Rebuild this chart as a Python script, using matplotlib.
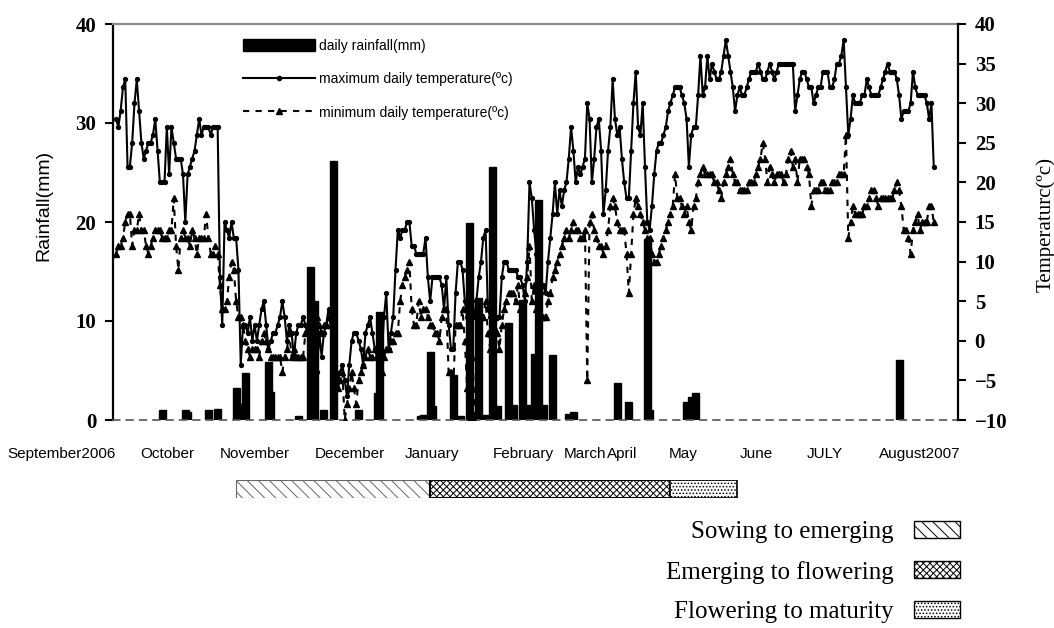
import matplotlib
matplotlib.use("Agg")
import matplotlib.pyplot as plt
from matplotlib import font_manager as fm
from matplotlib.patches import Patch
from matplotlib.lines import Line2D
import numpy as np

# ---------------- data ----------------
tmax = [28, 27, 29, 32, 33, 22, 22, 25, 30, 33,
        29, 25, 23, 24, 25, 25, 26, 28, 24, 20,
        20, 20, 27, 21, 27, 25, 23, 23, 23, 21,
        15, 21, 22, 23, 24, 26, 28, 26, 27, 27,
        27, 26, 27, 27, 27, 8, 2, 15, 14, 13,
        15, 13, 13, 9, -3, 2, 2, 1, 3, 0,
        2, 0, 2, 4, 5, 2, -1, 0, 1, 1,
        2, 3, 5, 3, 0, 2, 1, -2, 1, 2,
        2, 3, 2, 2, 2, 3, 2, -4, 1, -2,
        1, 2, 4, 3, 2, -3, -5, -4, -3, -5,
        -7, -3, 0, 1, 1, 0, -1, -3, 1, 2,
        3, 1, -1, -2, -1, -2, 3, 6, -1, 1,
        3, 9, 14, 13, 14, 14, 15, 15, 12, 12,
        11, 11, 11, 11, 13, 8, 5, 8, 8, 8,
        8, 7, 4, 8, 2, -1, -1, 6, 10, 10,
        9, 5, 3, 3, 3, 3, 5, 8, 10, 13,
        14, 4, 3, 3, 3, 3, 3, 8, 10, 10,
        9, 9, 9, 9, 8, 8, 7, 5, 10, 20,
        18, 14, 11, 7, 6, 7, 6, 10, 13, 16,
        20, 16, 19, 17, 19, 20, 23, 27, 24, 20,
        22, 21, 22, 23, 30, 28, 20, 23, 27, 28,
        24, 16, 19, 24, 27, 33, 28, 26, 27, 23,
        20, 18, 18, 24, 30, 34, 27, 26, 30, 22,
        15, 14, 17, 21, 24, 25, 25, 26, 27, 29,
        30, 31, 32, 32, 32, 31, 30, 28, 22, 26,
        27, 27, 31, 36, 31, 32, 36, 33, 35, 34,
        33, 33, 34, 36, 38, 36, 34, 32, 29, 31,
        32, 31, 31, 32, 33, 34, 34, 34, 35, 34,
        33, 33, 34, 35, 34, 33, 34, 35, 35, 35,
        35, 35, 35, 35, 29, 31, 33, 34, 34, 33,
        32, 32, 30, 31, 32, 32, 34, 34, 34, 32,
        32, 33, 35, 35, 36, 38, 32, 26, 28, 31,
        30, 30, 30, 31, 31, 33, 32, 31, 31, 31,
        31, 32, 33, 34, 35, 34, 34, 34, 33, 31,
        28, 29, 29, 29, 30, 34, 32, 31, 31, 31,
        31, 30, 28, 30, 22]

tmin = [11, 12, 12, 13, 15, 16, 16, 12, 14, 14,
        16, 14, 14, 12, 11, 12, 13, 14, 14, 14,
        13, 13, 13, 14, 14, 18, 12, 9, 13, 14,
        13, 13, 12, 14, 13, 11, 13, 13, 13, 16,
        13, 11, 11, 12, 11, 7, 4, 4, 5, 8,
        10, 9, 5, 3, 3, 2, 0, -1, -2, -1,
        -1, -1, -2, 0, 1, 0, -1, -2, -2, -2,
        -2, -2, -4, -2, -1, 1, -2, -1, -2, -2,
        -2, -2, 1, 2, 2, 3, 1, 3, 2, 1,
        2, 2, 3, 2, 2, -4, -6, -5, -4, -10,
        -8, -6, -4, -6, -8, -5, -4, -3, -2, -1,
        -2, -2, -1, -1, -1, -4, -2, -1, -1, 0,
        0, 1, 1, 5, 7, 8, 9, 10, 4, 2,
        2, 5, 3, 4, 4, 3, 2, 2, 1, 1,
        0, 3, 4, 4, -4, -4, -6, 2, 2, 2,
        4, 0, -6, -10, -10, -10, -2, 1, 3, 3,
        5, 1, -1, 3, 3, 1, -1, 2, 4, 5,
        6, 6, 6, 5, 7, 4, 2, 6, 8, 12,
        5, 7, 4, 1, 3, 3, 3, 5, 6, 8,
        9, 10, 11, 12, 13, 14, 13, 14, 15, 14,
        14, 13, 13, 14, -5, 15, 16, 14, 13, 12,
        12, 11, 12, 14, 17, 18, 17, 15, 14, 14,
        14, 11, 6, 11, 16, 18, 17, 16, 15, 14,
        13, 13, 11, 10, 10, 11, 12, 13, 14, 15,
        16, 17, 21, 18, 18, 17, 16, 17, 15, 14,
        17, 18, 20, 21, 22, 21, 21, 21, 21, 20,
        20, 19, 18, 20, 21, 22, 23, 21, 20, 20,
        19, 19, 19, 19, 20, 20, 20, 21, 22, 23,
        25, 23, 20, 22, 21, 20, 21, 21, 21, 20,
        21, 23, 24, 22, 23, 20, 23, 23, 23, 22,
        21, 17, 19, 19, 19, 20, 20, 19, 19, 19,
        20, 20, 20, 21, 21, 21, 26, 13, 15, 17,
        16, 16, 16, 16, 17, 17, 18, 19, 19, 18,
        17, 18, 18, 18, 18, 18, 18, 19, 20, 19,
        17, 14, 14, 13, 11, 14, 15, 16, 14, 15,
        15, 15, 17, 17, 15]

rain_day = [20, 30, 31, 40, 44, 52, 54, 56, 66, 67, 79, 84, 86, 90, 94,
            105, 113, 114, 132, 133, 136, 137, 146, 149, 153, 155, 157,
            160, 163, 165, 170, 172, 176, 178, 181, 183, 185, 189, 196,
            197, 198, 217, 222, 230, 231, 247, 249, 251, 339]
rain_mm = [1.0, 1.0, 0.8, 1.0, 1.1, 3.2, 1.6, 4.7, 5.9, 2.8, 0.4, 15.5,
           12.0, 1.0, 26.2, 1.0, 2.7, 10.9, 0.4, 0.5, 6.9, 1.4, 4.5, 0.4,
           19.9, 0.6, 12.3, 0.5, 25.6, 1.4, 9.8, 1.5, 12.1, 1.5, 6.7, 22.2,
           1.5, 6.6, 0.6, 0.5, 0.8, 3.7, 1.8, 18.3, 1.0, 1.8, 2.3, 2.7, 6.1]

month_labels = ["September2006", "October", "November", "December", "January",
                "February", "March", "April", "May", "June", "JULY", "August2007"]

phase_names = ["Sowing to emerging", "Emerging to flowering", "Flowering to maturity"]
phase_start = [52, 136, 240]
phase_end = [136, 240, 269]

legend_labels = ["daily rainfall(mm)", "maximum daily temperature(\u00bac)",
                 "minimum daily temperature(\u00bac)"]

# ---------------- layout / style ----------------
W, H = 1054, 628
names = {f.name for f in fm.fontManager.ttflist}
NARROW = "Liberation Sans Narrow" if "Liberation Sans Narrow" in names else "Liberation Sans"
MONTH_FS = 13 if NARROW == "Liberation Sans Narrow" else 11
SERIF = "Liberation Serif"
SANS = "Liberation Sans"

fig = plt.figure(figsize=(W / 100, H / 100), dpi=100)

def fx(px):
    return px / W

def fy(py):
    return 1 - py / H

ax_l, ax_r, ax_t, ax_b = 113, 958, 24, 420
ax = fig.add_axes([fx(ax_l), fy(ax_b), fx(ax_r - ax_l), (ax_b - ax_t) / H])
ax2 = ax.twinx()

days = np.arange(len(tmax))
xmin, xmax = -1.3, 364.5

ax.bar(rain_day, rain_mm, width=3.0, color="black", edgecolor="black", zorder=2)
ax.set_xlim(xmin, xmax)
ax.set_ylim(0, 40)
ax.set_yticks([0, 10, 20, 30, 40])
ax.set_xticks([])

ax2.plot(days, tmax, color="black", lw=1.5, marker="o", markersize=2.8, zorder=4)
ax2.plot(days, tmin, color="black", lw=1.5, ls=(0, (3, 3)), marker="^",
         markersize=5, zorder=3)
ax2.set_ylim(-10, 40)
ax2.set_yticks(np.arange(-10, 41, 5))
ax2.set_xlim(xmin, xmax)

for a in (ax, ax2):
    a.tick_params(axis="y", direction="out", length=6, width=1.5, pad=6,
                  labelsize=15)
    for lab in a.get_yticklabels():
        lab.set_fontfamily(SERIF)
        lab.set_fontweight("bold")

ax.spines["top"].set_color("#8a8a8a")
ax.spines["top"].set_linewidth(1.6)
ax.spines["left"].set_linewidth(1.6)
ax.spines["right"].set_visible(False)
ax.spines["bottom"].set_color("#555555")
ax.spines["bottom"].set_linewidth(1.2)
ax.spines["bottom"].set_linestyle((0, (4, 4)))
for s in ("top", "left", "bottom"):
    ax2.spines[s].set_visible(False)
ax2.spines["right"].set_linewidth(1.6)

ax.set_ylabel("Rainfall(mm)", fontsize=14, fontfamily=SANS)
ax.yaxis.set_label_coords((52 - ax_l) / (ax_r - ax_l), (ax_b - 205) / (ax_b - ax_t))
ax2.set_ylabel("Temperaturc(\u00bac)", fontsize=15, fontfamily=SERIF)
ax2.yaxis.set_label_coords((1036 - ax_l) / (ax_r - ax_l), (ax_b - 225) / (ax_b - ax_t))

handles = [Patch(facecolor="black", edgecolor="black"),
           Line2D([], [], color="black", lw=1.5, marker="o", markersize=3),
           Line2D([], [], color="black", lw=1.5, ls=(0, (3, 3)), marker="^", markersize=5)]
leg = ax2.legend(handles, legend_labels, loc="upper left",
                 bbox_to_anchor=((243 - ax_l) / (ax_r - ax_l), 1 - (39 - ax_t) / (ax_b - ax_t)),
                 frameon=False, borderpad=0, borderaxespad=0, handlelength=5.2,
                 handleheight=1.0, handletextpad=0.25, labelspacing=1.4,
                 numpoints=1, prop={"family": SANS, "size": 10})

# month labels below the axis (March / April sit right next to each other)
month_x = [62, 167, 255, 350, 432, 523, 606, 607, 683, 756, 825, 920]
month_ha = ["center"] * 6 + ["right", "left"] + ["center"] * 4
for lab, px, ha in zip(month_labels, month_x, month_ha):
    fig.text(fx(px), fy(454), lab, ha=ha, va="center",
             fontsize=MONTH_FS, fontfamily=NARROW)

# growth stage bars
pax = fig.add_axes([fx(ax_l), fy(498), fx(ax_r - ax_l), 18 / H])
pax.set_xlim(xmin, xmax)
pax.set_ylim(0, 1)
pax.axis("off")
hatches = ["\\\\\\", "xxxxx", "....."]
edges = ["#666666", "black", "black"]
lws = [0.8, 1.5, 1.2]
matplotlib.rcParams["hatch.linewidth"] = 0.7
for s, e, h, ec, lw in zip(phase_start, phase_end, hatches, edges, lws):
    pax.barh(0.5, e - s, left=s, height=1.0, facecolor="white", edgecolor=ec,
             hatch=h, linewidth=lw)

ph = [Patch(facecolor="white", edgecolor="black", hatch=h, linewidth=1.0)
      for h in hatches]
fig.legend(ph, phase_names, loc="upper right",
           bbox_to_anchor=(fx(960), fy(521)), frameon=False, markerfirst=False,
           alignment="right", borderpad=0, borderaxespad=0, handlelength=1.85,
           handleheight=0.65, handletextpad=0.8, labelspacing=0.7,
           prop={"family": SERIF, "size": 18})

fig.savefig("out.png", dpi=100)
